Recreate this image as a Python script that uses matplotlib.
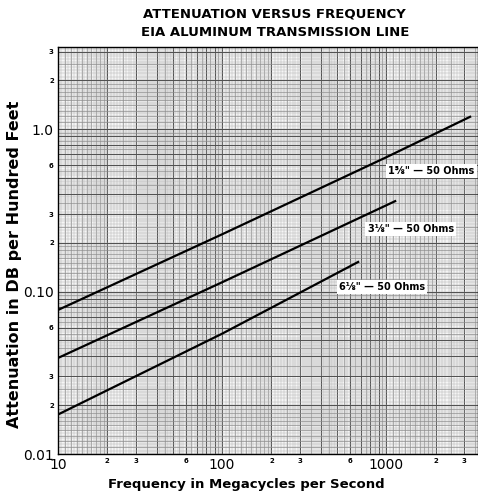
import numpy as np
import matplotlib.pyplot as plt

# czestotliwosc [MHz] i tlumienie [dB/100 ft]
f_158 = [10, 100, 1000, 3250]
a_158 = [0.077, 0.225, 0.67, 1.19]
f_318 = [10, 100, 1135]
a_318 = [0.039, 0.114, 0.36]
f_618 = [10, 100, 675]
a_618 = [0.0175, 0.055, 0.152]

etykiety = ['1⅝" — 50 Ohms', '3⅛" — 50 Ohms', '6⅛" — 50 Ohms']

x_ticks = [10, 20, 30, 60, 100, 200, 300, 600, 1000, 2000, 3000]
x_labels = ["10", "2", "3", "6", "100", "2", "3", "6", "1000", "2", "3"]
y_ticks = [0.01, 0.02, 0.03, 0.06, 0.1, 0.2, 0.3, 0.6, 1.0, 2, 3]
y_labels = ["0.01", "2", "3", "6", "0.10", "2", "3", "6", "1.0", "2", "3"]

fig = plt.figure(figsize=(4.78, 4.92), dpi=100)
ax = fig.add_axes([0.1213, 0.0772, 0.8787, 0.8273])
ax.set_xscale('log')
ax.set_yscale('log')
xmin, xmax = 10, 3630
ymin, ymax = 0.01, 3.2
ax.set_xlim(xmin, xmax)
ax.set_ylim(ymin, ymax)
ax.set_facecolor('#f5f5f5')

# siatka papieru logarytmicznego
drobne = np.concatenate([np.arange(1, 2, 0.05), np.arange(2, 5, 0.1), np.arange(5, 10, 0.2)])
srednie = np.concatenate([np.arange(1, 2, 0.1), np.arange(2, 10, 0.5)])
glowne = np.arange(1, 10, 1.0)
for dek in [1, 10, 100, 1000]:
    ax.vlines(drobne * dek, ymin, ymax, color='#b4b4b4', lw=0.35, zorder=1)
    ax.vlines(srednie * dek, ymin, ymax, color='#8a8a8a', lw=0.45, zorder=1)
    ax.vlines(glowne * dek, ymin, ymax, color='#505050', lw=0.7, zorder=1)
for dek in [0.001, 0.01, 0.1, 1]:
    ax.hlines(drobne * dek, xmin, xmax, color='#b4b4b4', lw=0.35, zorder=1)
    ax.hlines(srednie * dek, xmin, xmax, color='#8a8a8a', lw=0.45, zorder=1)
    ax.hlines(glowne * dek, xmin, xmax, color='#505050', lw=0.7, zorder=1)

ax.plot(f_158, a_158, color='black', lw=1.6, zorder=3)
ax.plot(f_318, a_318, color='black', lw=1.6, zorder=3)
ax.plot(f_618, a_618, color='black', lw=1.6, zorder=3)

box = dict(facecolor='white', edgecolor='none', pad=1.5)
ax.text(1030, 0.552, etykiety[0], fontsize=7, fontweight='bold', ha='left', va='center', bbox=box, zorder=4)
ax.text(770, 0.243, etykiety[1], fontsize=7, fontweight='bold', ha='left', va='center', bbox=box, zorder=4)
ax.text(515, 0.1066, etykiety[2], fontsize=7, fontweight='bold', ha='left', va='center', bbox=box, zorder=4)

ax.tick_params(length=0, pad=3)
ax.minorticks_off()
ax.set_xticks(x_ticks, x_labels)
ax.set_yticks(y_ticks, y_labels)
for lab in ax.get_xticklabels() + ax.get_yticklabels():
    if len(lab.get_text()) > 1:
        lab.set_fontsize(10)
    else:
        lab.set_fontsize(5)
        lab.set_fontweight('bold')

for s in ax.spines.values():
    s.set_linewidth(1.0)

fig.text(0.575, 0.972, "ATTENUATION VERSUS FREQUENCY", ha='center', va='center',
         fontsize=9.5, fontweight='heavy')
fig.text(0.575, 0.933, "EIA ALUMINUM TRANSMISSION LINE", ha='center', va='center',
         fontsize=9.5, fontweight='heavy')
ax.set_xlabel("Frequency in Megacycles per Second", fontsize=9.5, fontweight='bold')
ax.xaxis.set_label_coords(0.448, -0.058)
ax.set_ylabel("Attenuation in DB per Hundred Feet", fontsize=11.5, fontweight='bold')
ax.yaxis.set_label_coords(-0.085, 0.467)

plt.savefig('out.png', dpi=100)
